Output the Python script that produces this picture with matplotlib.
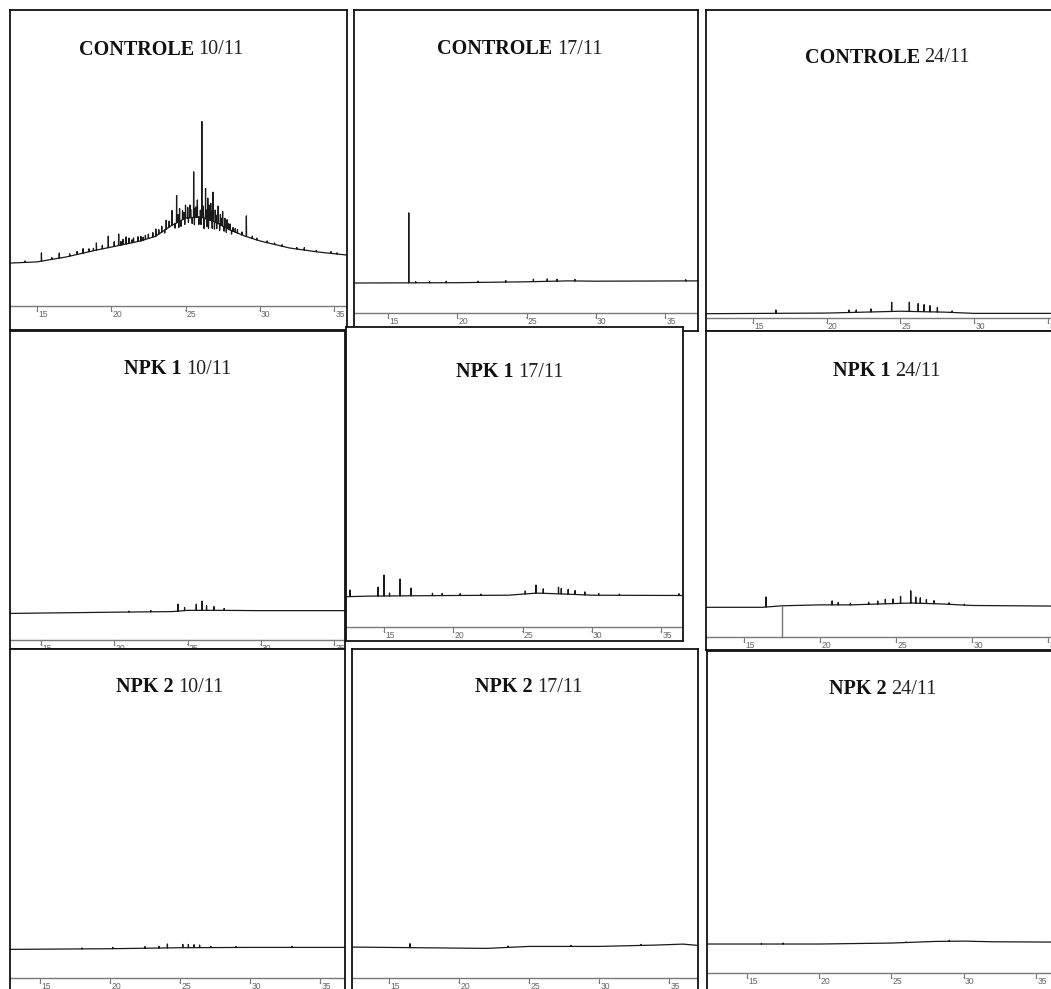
import numpy as np
import matplotlib
matplotlib.use("Agg")
import matplotlib.pyplot as plt

# ---------------- DATA (retention time in min, abundance in % of panel full scale) ----------------
tick_values = [15, 20, 25, 30, 35]
title_groups = ["CONTROLE", "CONTROLE", "CONTROLE", "NPK 1", "NPK 1", "NPK 1", "NPK 2", "NPK 2", "NPK 2"]
title_dates = ["10/11", "17/11", "24/11", "10/11", "17/11", "24/11", "10/11", "17/11", "24/11"]

# CONTROLE 10/11
c10_base_t = [13.2, 15, 17, 19, 20, 22, 23, 24, 25, 26, 27, 28, 29, 30, 32, 34, 35.9]
c10_base_y = [14.5, 14.9, 16.6, 18.9, 19.9, 22.0, 23.6, 27.0, 29.7, 30.1, 28.4, 25.7, 23.6, 22.0, 19.6, 18.2, 17.2]
c10_peak_t = [26.1, 25.55, 24.4, 26.85, 26.35, 26.7, 29.1, 19.8, 20.5, 15.3, 16.5, 19.0, 23.0, 18.1, 21.0,
              21.5, 22.0, 22.5, 24.1, 24.6, 25.0, 25.3, 25.8, 26.0, 26.5, 27.2, 27.5, 27.8, 28.2, 33.0, 34.8,
              17.2, 17.7, 18.5, 19.4, 20.2, 20.8, 21.2, 21.8, 22.3, 22.8, 23.4, 23.7, 24.8, 25.15, 25.7, 26.2,
              26.6, 27.0, 27.35, 27.65, 28.0, 28.5, 29.5, 30.5, 31.5, 32.5,
              24.7, 25.2, 25.9, 26.25, 26.45, 26.95, 27.1, 27.6, 23.6, 24.3, 25.45, 26.05,
              14.2, 16.0, 18.8, 20.65, 21.4, 22.15, 23.2, 23.9, 24.5, 24.9, 25.35, 25.65, 26.15, 26.4,
              26.75, 27.05, 27.45, 27.9, 28.35, 28.8, 29.8, 31.0, 33.8, 35.2,
              24.55, 24.95, 25.6, 26.55, 26.8, 27.3, 27.75, 28.1]
c10_peak_h = [32.4, 15.4, 9.2, 9.8, 10.2, 5.8, 7.0, 3.9, 3.9, 2.8, 1.7, 2.4, 2.4, 1.5, 2.4,
              1.5, 1.5, 1.5, 5.0, 4.3, 4.4, 4.3, 5.8, 2.3, 7.2, 5.9, 4.9, 2.9, 1.2, 0.8, 0.6,
              0.8, 1.0, 1.0, 1.2, 1.6, 1.8, 1.8, 1.6, 1.4, 1.5, 2.0, 3.0, 3.0, 3.5, 3.5, 4.0,
              5.0, 4.0, 3.5, 3.0, 2.0, 1.2, 0.8, 0.6, 0.5, 0.5,
              -2.0, -1.5, -2.5, -3.5, -2.5, -2.5, -2.0, -1.5, -1.0, -1.5, -2.0, -2.5,
              0.5, 0.6, 0.8, 1.2, 1.0, 1.0, 1.5, 2.0, 2.5, 2.2, 2.8, 3.0, 3.5, 3.0,
              3.2, 2.5, 2.5, 1.8, 1.2, 1.0, 0.6, 0.5, 0.4, 0.4,
              -2.0, -2.0, -2.5, -3.0, -2.5, -2.0, -1.5, -1.2]

# CONTROLE 17/11
c17_base_t = [12.55, 20, 25, 28, 30, 37.4]
c17_base_y = [9.9, 10.0, 10.3, 10.6, 10.5, 10.6]
c17_peak_t = [16.5, 17.0, 18.0, 19.2, 21.5, 23.5, 25.5, 26.5, 27.2, 28.5, 36.5]
c17_peak_h = [23.1, 0.4, 0.4, 0.5, 0.4, 0.5, 0.8, 0.8, 0.6, 0.5, 0.4]

# CONTROLE 24/11
c24_base_t = [11.85, 20, 25, 28, 30, 35.3]
c24_base_y = [1.4, 1.6, 2.2, 1.9, 1.5, 1.5]
c24_peak_t = [16.55, 21.5, 22.0, 23.0, 24.4, 25.6, 26.2, 26.6, 27.0, 27.5, 28.5]
c24_peak_h = [1.1, 0.8, 0.8, 1.0, 3.0, 3.0, 2.6, 2.3, 2.0, 1.5, 0.5]

# NPK 1 10/11
n110_base_t = [12.9, 20, 24, 25, 27, 30, 35.75]
n110_base_y = [8.6, 9.0, 9.2, 9.6, 9.6, 9.5, 9.5]
n110_peak_t = [24.35, 26.0, 25.6, 26.3, 26.8, 24.8, 27.5, 22.5, 21.0]
n110_peak_h = [2.3, 3.0, 2.0, 1.5, 1.2, 1.0, 0.6, 0.4, 0.3]

# NPK 1 17/11
n117_base_t = [12.26, 14, 20, 24, 26, 28, 30, 36.6]
n117_base_y = [10.1, 10.3, 10.5, 10.6, 11.3, 11.0, 10.6, 10.5]
n117_peak_t = [12.55, 14.57, 15.0, 16.16, 16.95, 15.4, 18.5, 19.2, 20.5, 22.0, 25.2, 25.97, 26.5,
               27.6, 27.8, 28.3, 28.8, 29.5, 30.5, 32.0, 36.3]
n117_peak_h = [2.2, 3.0, 7.0, 5.6, 2.6, 1.0, 0.8, 0.7, 0.6, 0.4, 1.0, 2.7, 1.5,
               2.2, 1.8, 1.6, 1.3, 1.0, 0.6, 0.4, 0.6]

# NPK 1 24/11
n124_base_t = [12.5, 16.2, 17.5, 20, 22, 24, 26, 28, 30, 35.5]
n124_base_y = [9.7, 9.7, 10.2, 10.5, 10.5, 10.8, 11.1, 10.8, 10.3, 10.1]
n124_peak_t = [16.45, 25.97, 25.3, 24.8, 24.3, 26.3, 26.6, 27.0, 27.5, 20.8, 21.2, 22.0, 23.2, 23.8, 28.5, 29.5]
n124_peak_h = [3.3, 4.0, 2.3, 1.5, 1.5, 2.0, 1.8, 1.3, 1.0, 1.3, 0.8, 0.6, 0.7, 1.0, 0.5, 0.3]
n124_marker_t = 17.5

# NPK 2 10/11
n210_base_t = [12.86, 20, 25, 30, 36.8]
n210_base_y = [8.7, 8.9, 9.2, 9.3, 9.3]
n210_peak_t = [24.1, 25.2, 25.6, 26.0, 26.4, 22.5, 23.5, 20.2, 27.2, 18.0, 29.0, 33.0]
n210_peak_h = [1.2, 1.0, 1.0, 0.9, 0.8, 0.5, 0.5, 0.4, 0.4, 0.3, 0.3, 0.3]

# NPK 2 17/11
n217_base_t = [12.36, 22, 25, 30, 34, 36, 37.07]
n217_base_y = [9.4, 9.0, 9.6, 9.6, 10.0, 10.3, 9.9]
n217_peak_t = [16.5, 23.5, 28.0, 33.0]
n217_peak_h = [1.2, 0.4, 0.3, 0.3]

# NPK 2 24/11
n224_base_t = [12.23, 20, 25, 28, 30, 32, 36.3]
n224_base_y = [9.0, 9.0, 9.3, 9.8, 9.9, 9.7, 9.6]
n224_peak_t = [16.0, 17.5, 26.0, 29.0]
n224_peak_h = [0.2, 0.3, 0.2, 0.3]

series = [
    (c10_base_t, c10_base_y, c10_peak_t, c10_peak_h),
    (c17_base_t, c17_base_y, c17_peak_t, c17_peak_h),
    (c24_base_t, c24_base_y, c24_peak_t, c24_peak_h),
    (n110_base_t, n110_base_y, n110_peak_t, n110_peak_h),
    (n117_base_t, n117_base_y, n117_peak_t, n117_peak_h),
    (n124_base_t, n124_base_y, n124_peak_t, n124_peak_h),
    (n210_base_t, n210_base_y, n210_peak_t, n210_peak_h),
    (n217_base_t, n217_base_y, n217_peak_t, n217_peak_h),
    (n224_base_t, n224_base_y, n224_peak_t, n224_peak_h),
]

# ---------------- LAYOUT (pixels in the 1051x989 canvas) ----------------
W, H = 1051, 989
LAYOUT = [
    dict(box=(10, 10, 347, 330), axis=306, t15=37, t35=334, title=(161, 50)),
    dict(box=(354, 10, 698, 331), axis=313, t15=388, t35=665, title=(520, 49)),
    dict(box=(706, 10, 1058, 331), axis=318, t15=753, t35=1048, title=(887, 58)),
    dict(box=(10, 331, 345, 649), axis=640, t15=41, t35=334, title=(178, 369)),
    dict(box=(346, 327, 683, 641), axis=627, t15=384, t35=661, title=(510, 372)),
    dict(box=(706, 331, 1058, 650), axis=637, t15=744, t35=1048, title=(887, 371)),
    dict(box=(10, 649, 345, 996), axis=978, t15=40, t35=320, title=(170, 687)),
    dict(box=(352, 649, 698, 996), axis=978, t15=389, t35=669, title=(529, 687)),
    dict(box=(707, 651, 1058, 996), axis=973, t15=747, t35=1036, title=(883, 689)),
]

SERIF = ["Liberation Serif", "DejaVu Serif"]
NARROW = ["Liberation Sans Narrow", "Liberation Sans", "DejaVu Sans"]


def build_trace(bt, by, pt, ph, w=0.012):
    bt = np.asarray(bt, float)
    by = np.asarray(by, float)
    pts = list(zip(bt, by))
    for t, h in zip(pt, ph):
        b = float(np.interp(t, bt, by))
        pts += [(t - w, b), (t, b + h), (t + w, b)]
    pts.sort(key=lambda p: p[0])
    arr = np.array(pts)
    return arr[:, 0], arr[:, 1]


fig = plt.figure(figsize=(W / 100, H / 100), dpi=100)
fig.patch.set_facecolor("white")

for i, (lay, (bt, by, pt, ph)) in enumerate(zip(LAYOUT, series)):
    x0, y0, x1, y1 = lay["box"]
    ax = fig.add_axes([x0 / W, 1 - y1 / H, (x1 - x0) / W, (y1 - y0) / H])
    ax.set_facecolor("white")
    ppm = (lay["t35"] - lay["t15"]) / 20.0
    xmin = 15 - (lay["t15"] - x0) / ppm
    xmax = 15 + (x1 - lay["t15"]) / ppm
    hpx = lay["axis"] - y0
    k = 100.0 / hpx  # data units per pixel
    ymin = -(y1 - lay["axis"]) * k
    ax.set_xlim(xmin, xmax)
    ax.set_ylim(ymin, 100)
    ax.set_xticks([])
    ax.set_yticks([])
    for s in ax.spines.values():
        s.set_color("#111111")
        s.set_linewidth(1.3)

    # axis line and ticks
    ax.axhline(0, color="#7a7a7a", lw=1.0)
    for tv in tick_values:
        ax.plot([tv, tv], [0, -4.5 * k], color="#7a7a7a", lw=0.8)
        ax.plot([tv, tv + 0.8 / ppm], [-4.5 * k, -5.2 * k], color="#7a7a7a", lw=0.6)
        ax.text(tv + 1.2 / ppm, -4.0 * k, str(tv), fontsize=6.2, color="#666666",
                family=NARROW, ha="left", va="top")

    tx, ty = build_trace(bt, by, pt, ph)
    ax.plot(tx, ty, color="#1a1a1a", lw=0.9, solid_joinstyle="round", antialiased=True)

    if i == 5:
        base_m = float(np.interp(n124_marker_t, bt, by))
        ax.plot([n124_marker_t, n124_marker_t], [0, base_m], color="#777777", lw=1.0)

# titles (bold group + regular date)
renderer = fig.canvas.get_renderer()
for lay, grp, date in zip(LAYOUT, title_groups, title_dates):
    cx, cy = lay["title"]
    tb = fig.text(0, 1 - cy / H, grp, fontsize=14.5, fontweight="bold", family=SERIF,
                  va="center", ha="left", color="#111111")
    tr = fig.text(0, 1 - cy / H, date, fontsize=14.5, family=SERIF,
                  va="center", ha="left", color="#222222")
    wb = tb.get_window_extent(renderer).width
    wr = tr.get_window_extent(renderer).width
    gap = 4.5
    start = cx - (wb + gap + wr) / 2
    tb.set_x(start / W)
    tr.set_x((start + wb + gap) / W)

fig.savefig("out.png", dpi=100, facecolor="white")
